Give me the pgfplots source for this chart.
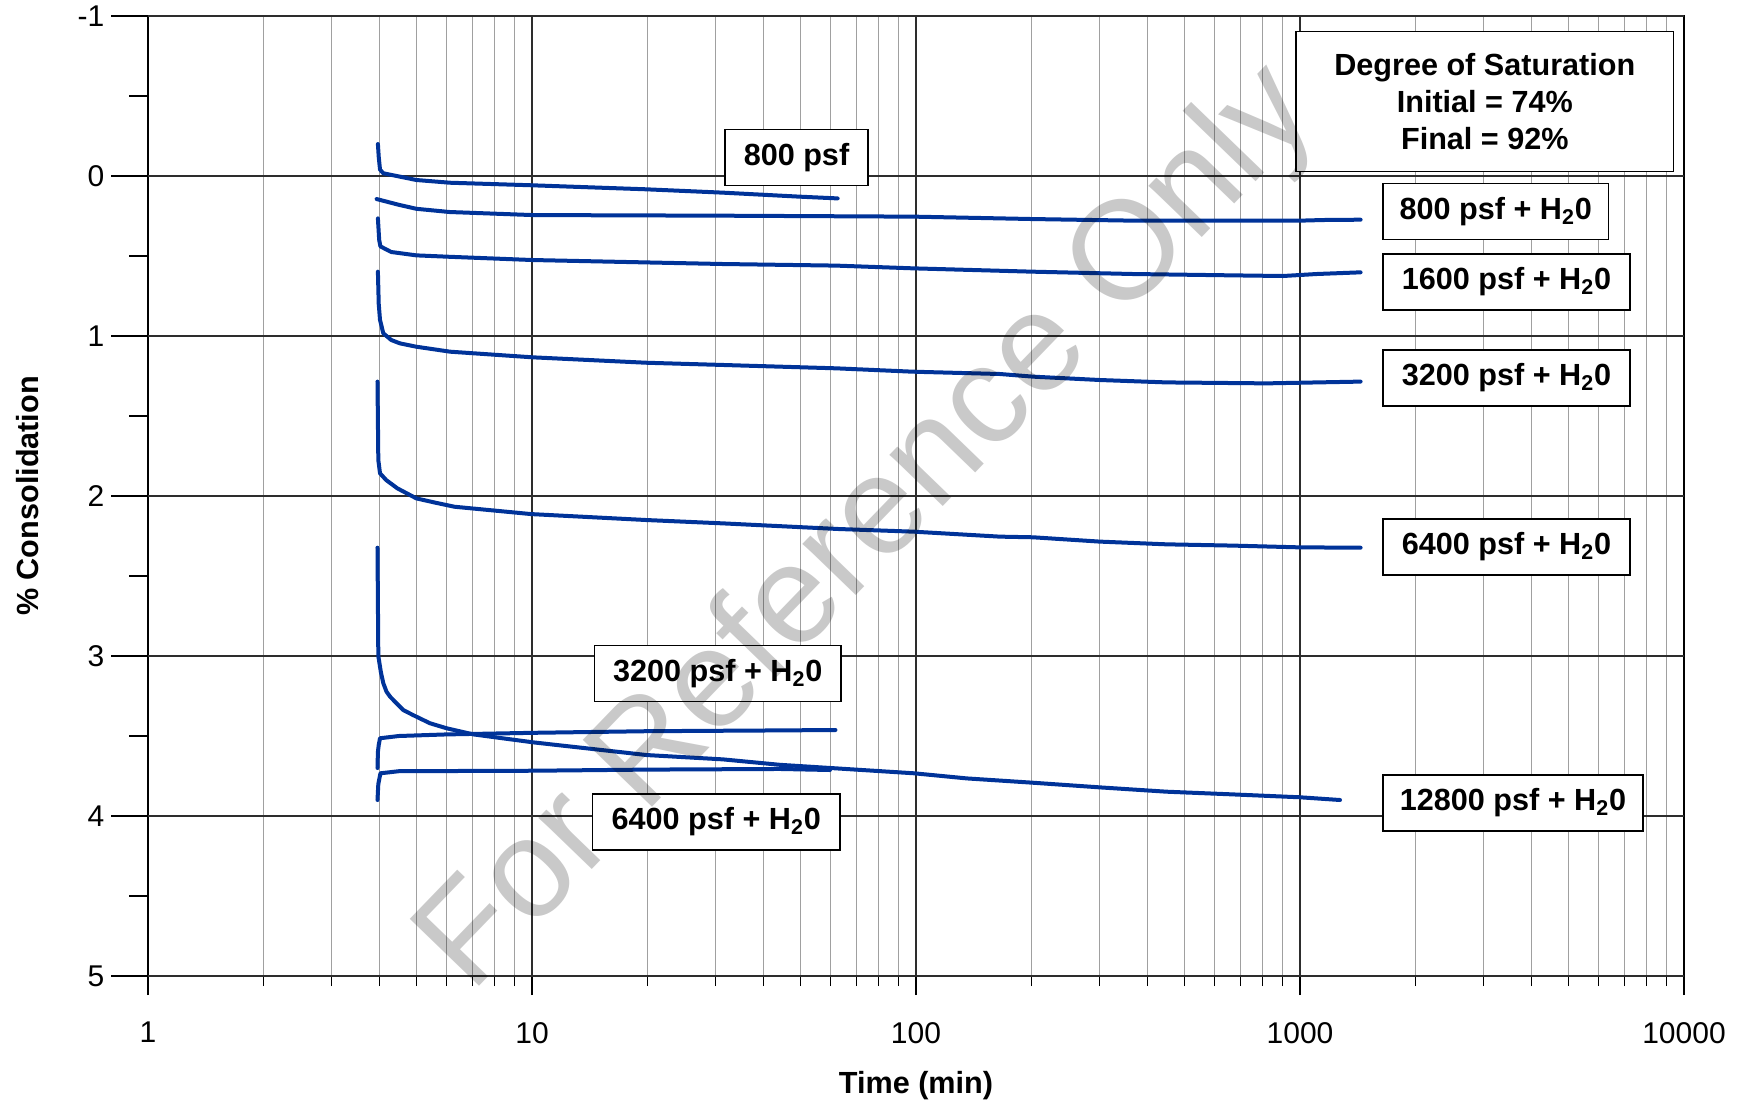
\documentclass[border=0pt]{standalone}
\usepackage{fontspec}
\setmainfont{Liberation Sans}
\usepackage{pgfplots}
\pgfplotsset{compat=1.18}
\definecolor{curve}{RGB}{0,51,153}
\definecolor{majgrid}{RGB}{45,45,45}
\definecolor{mingrid}{RGB}{160,160,160}
\begin{document}
\begin{tikzpicture}
\useasboundingbox (-74pt,-65.5pt) rectangle (801pt,488pt);
\begin{axis}[
  at={(0,0)}, anchor=south west,
  scale only axis, width=768pt, height=480pt,
  xmode=log, xmin=1, xmax=10000,
  ymin=-1, ymax=5, y dir=reverse,
  xtick={1,10,100,1000,10000}, xticklabels={1,10,100,1000,10000},
  ytick={-0.5,0.5,1.5,2.5,3.5,4.5}, yticklabels={},
  extra y ticks={-1,0,1,2,3,4,5},
  extra y tick labels={-1,0,1,2,3,4,5},
  extra y tick style={major tick length=18.5pt, grid=major},
  xmajorgrids, xminorgrids,
  major grid style={majgrid, line width=0.6pt},
  minor grid style={mingrid, line width=0.6pt},
  tick align=outside, tick pos=left,
  major tick length=9.5pt, minor tick length=5pt,
  tick style={black, line width=0.6pt},
  axis line style={black, line width=0.8pt},
  tick label style={font=\fontsize{15}{18}\selectfont},
  xticklabel style={yshift=-10pt},
  xlabel={\textbf{Time (min)}},
  ylabel={\textbf{\% Consolidation}},
  every axis x label/.style={at={(axis description cs:0.5,-0.1146)}, anchor=center, font=\fontsize{15.3}{18}\selectfont},
  every axis y label/.style={at={(axis description cs:-0.0781,0.5)}, rotate=90, anchor=center, font=\fontsize{15.3}{18}\selectfont},
  cv/.style={curve, solid, no markers, line width=2pt, line join=round, line cap=round},
]
% 800 psf
\addplot[cv] coordinates {(3.97,-0.20) (3.99,-0.12) (4.02,-0.04) (4.10,-0.017) (4.53,0.004) (5.0,0.025) (6.12,0.042) (10,0.058) (19.8,0.083) (31.4,0.104) (49.7,0.129) (62.5,0.14)};
% 800 psf + H2O
\addplot[cv] coordinates {(3.94,0.144) (4.5,0.18) (5.0,0.205) (6.1,0.225) (10,0.244) (31.4,0.248) (98.8,0.254) (201.7,0.269) (367,0.279) (669,0.279) (1000,0.279) (1150,0.275) (1438,0.273)};
% 1600 psf + H2O
\addplot[cv] coordinates {(3.97,0.265) (4.0,0.40) (4.03,0.44) (4.3,0.475) (5.0,0.496) (6.12,0.505) (10,0.525) (19.8,0.54) (31.4,0.55) (62,0.56) (98,0.577) (201.7,0.598) (367,0.6125) (669,0.621) (903,0.625) (1105,0.6125) (1438,0.602)};
% 3200 psf + H2O
\addplot[cv] coordinates {(3.97,0.598) (3.99,0.80) (4.02,0.90) (4.10,0.983) (4.30,1.025) (4.53,1.046) (5.0,1.067) (6.12,1.098) (10,1.133) (19.8,1.167) (31.4,1.181) (62,1.202) (98,1.223) (165.5,1.2375) (201.7,1.254) (301,1.275) (449,1.29) (819,1.296) (1000,1.292) (1438,1.285)};
% 6400 psf + H2O
\addplot[cv] coordinates {(3.96,1.285) (3.98,1.775) (4.02,1.858) (4.17,1.90) (4.46,1.952) (5.0,2.015) (5.61,2.042) (6.28,2.067) (9.95,2.113) (19.8,2.15) (31.4,2.171) (62.5,2.206) (98.8,2.223) (165.5,2.254) (201.7,2.258) (301,2.285) (449,2.302) (669,2.31) (1000,2.321) (1438,2.323)};
% 12800 psf + H2O
\addplot[cv] coordinates {(3.96,2.323) (3.98,3.0) (4.04,3.10) (4.10,3.17) (4.18,3.223) (4.27,3.254) (4.44,3.296) (4.62,3.3375) (4.90,3.369) (5.42,3.42) (6.0,3.452) (7.04,3.49) (10.1,3.54) (19.9,3.619) (31.4,3.646) (44.2,3.68) (98.8,3.733) (135.6,3.765) (201.7,3.792) (301,3.821) (449,3.848) (669,3.865) (1000,3.883) (1271,3.9)};
% 3200 psf + H2O (lower)
\addplot[cv] coordinates {(3.96,3.70) (3.97,3.60) (3.99,3.556) (4.02,3.514) (4.5,3.50) (6.0,3.49) (10.1,3.48) (19.9,3.47) (44.2,3.465) (61.7,3.4625)};
% 6400 psf + H2O (lower)
\addplot[cv] coordinates {(3.96,3.90) (3.98,3.80) (4.03,3.733) (4.5,3.72) (10.1,3.717) (19.9,3.71) (44.2,3.706) (59.7,3.7125)};
\end{axis}
\tikzset{lab/.style={draw=black, line width=0.7pt, fill=white, font=\bfseries\fontsize{15.3}{18.5}\selectfont, inner sep=0pt, minimum height=28pt, align=center}}
\node[lab, minimum width=71.5pt] at (324.25pt,409.15pt) {800 psf};
\node[lab, minimum width=188.75pt, minimum height=69.8pt] at (668.4pt,437.25pt) {Degree of Saturation\\Initial = 74\%\\Final = 92\%};
\node[lab, minimum width=112.75pt] at (673.9pt,382.25pt) {800 psf + H\textsubscript{2}0};
\node[lab, minimum width=123.5pt] at (679.25pt,347pt) {1600 psf + H\textsubscript{2}0};
\node[lab, minimum width=123.5pt] at (679.25pt,299pt) {3200 psf + H\textsubscript{2}0};
\node[lab, minimum width=123.5pt] at (679.25pt,214.5pt) {6400 psf + H\textsubscript{2}0};
\node[lab, minimum width=130pt] at (682.5pt,86.5pt) {12800 psf + H\textsubscript{2}0};
\node[lab, minimum width=123.25pt] at (284.9pt,151.35pt) {3200 psf + H\textsubscript{2}0};
\node[lab, minimum width=123.7pt] at (284.15pt,77pt) {6400 psf + H\textsubscript{2}0};
\node[rotate=46, text=black, text opacity=0.21, font=\fontsize{70}{74}\selectfont] at (361pt,223pt) {For Reference Only};
\end{tikzpicture}
\end{document}
